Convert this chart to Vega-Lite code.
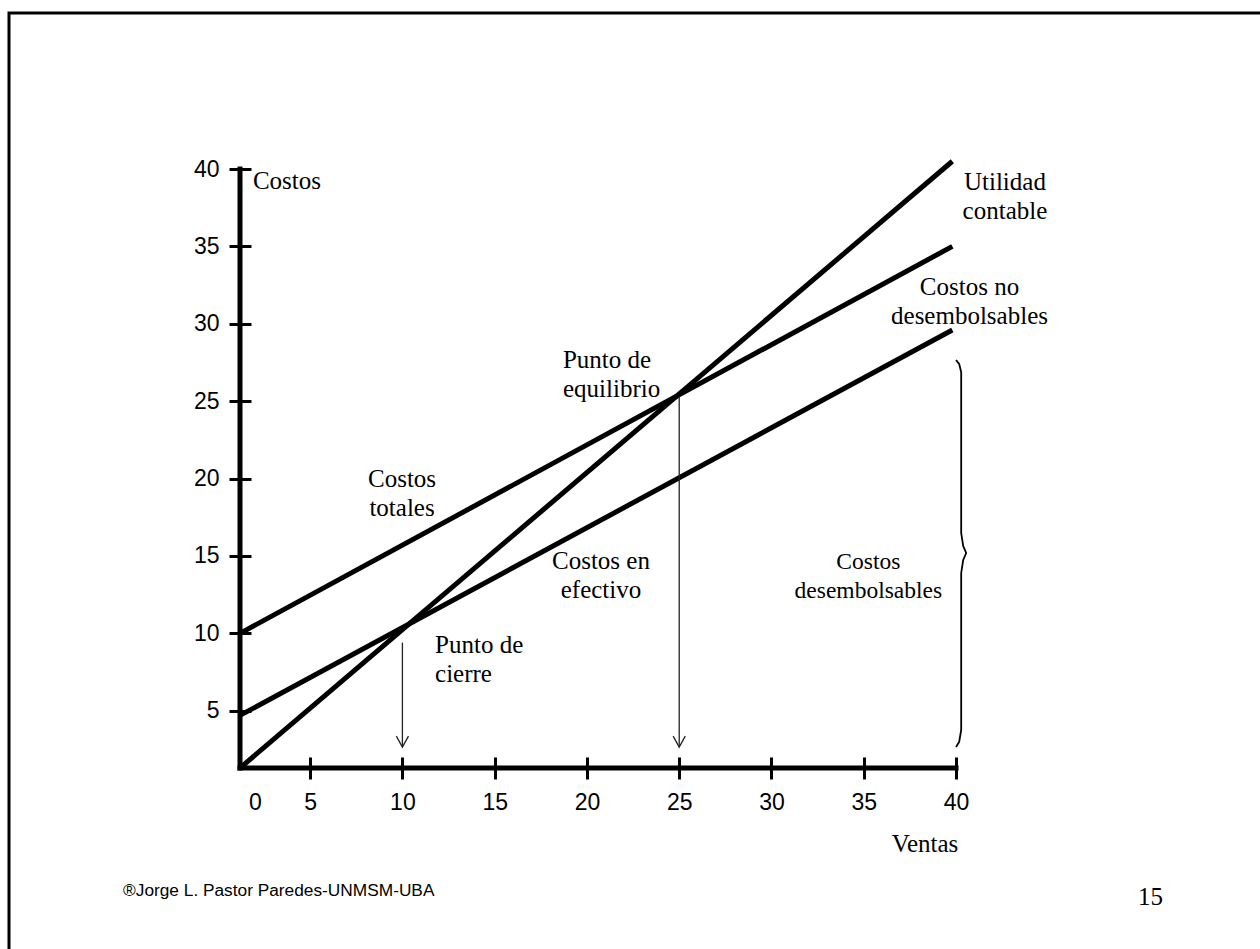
{
  "$schema": "https://vega.github.io/schema/vega-lite/v6.json",
  "width": 1251,
  "height": 936,
  "autosize": "none",
  "padding": {"left": 9, "top": 13, "right": 0, "bottom": 0},
  "background": "white",
  "config": {
    "view": {"stroke": "black", "strokeWidth": 3, "strokeDash": [1251, 2187, 936]},
    "axis": {
      "domain": false,
      "grid": false,
      "tickColor": "black",
      "tickWidth": 3,
      "tickSize": 22,
      "labelFont": "Liberation Sans",
      "labelFontSize": 23,
      "labelColor": "black",
      "labelFlush": false,
      "labelOverlap": false,
      "labelBound": false
    }
  },
  "datasets": {
    "cost_lines": [
      {"series": "Utilidad contable", "x": 1.2, "y": 1.3},
      {"series": "Utilidad contable", "x": 39.8, "y": 40.5},
      {"series": "Costos totales", "x": 1.2, "y": 10.0},
      {"series": "Costos totales", "x": 39.8, "y": 35.0},
      {"series": "Costos en efectivo", "x": 1.2, "y": 4.7},
      {"series": "Costos en efectivo", "x": 39.8, "y": 29.6}
    ],
    "axis_lines": [
      {"x": 1.2, "y": 1.3, "x2": 1.2, "y2": 40},
      {"x": 1.2, "y": 1.3, "x2": 40, "y2": 1.3}
    ],
    "arrows": [
      {"point": "Punto de cierre", "x": 10, "y": 9.4, "y2": 2.65},
      {"point": "Punto de equilibrio", "x": 25, "y": 25.3, "y2": 2.65}
    ],
    "brace": [
      {"i": 0, "x": 40.0, "y": 27.66},
      {"i": 1, "x": 40.17, "y": 27.4},
      {"i": 2, "x": 40.28, "y": 26.88},
      {"i": 3, "x": 40.28, "y": 16.48},
      {"i": 4, "x": 40.39, "y": 15.64},
      {"i": 5, "x": 40.55, "y": 15.19},
      {"i": 6, "x": 40.39, "y": 14.74},
      {"i": 7, "x": 40.28, "y": 13.9},
      {"i": 8, "x": 40.28, "y": 3.76},
      {"i": 9, "x": 40.17, "y": 2.98},
      {"i": 10, "x": 40.0, "y": 2.66}
    ],
    "labels_left": [
      {"x": 1.9, "y": 38.71, "label": "Costos"},
      {"x": 18.7, "y": 27.12, "label": "Punto de\nequilibrio"},
      {"x": 11.77, "y": 8.75, "label": "Punto de\ncierre"}
    ],
    "labels_center": [
      {"x": 42.65, "y": 38.64, "label": "Utilidad\ncontable"},
      {"x": 40.73, "y": 31.86, "label": "Costos no\ndesembolsables"},
      {"x": 9.98, "y": 19.47, "label": "Costos\ntotales"},
      {"x": 20.76, "y": 14.16, "label": "Costos en\nefectivo"},
      {"x": 38.32, "y": -4.11, "label": "Ventas"},
      {"x": 50.54, "y": -7.55, "label": "15"}
    ],
    "labels_small": [
      {"x": 35.25, "y": 14.16, "label": "Costos\ndesembolsables"}
    ],
    "footer": [
      {"x": -5.14, "y": -6.97, "label": "®Jorge L. Pastor Paredes-UNMSM-UBA"}
    ]
  },
  "encoding": {
    "x": {
      "field": "x",
      "type": "quantitative",
      "scale": {"domain": [-11.318, 56.472], "nice": false, "zero": false},
      "axis": {
        "orient": "bottom",
        "offset": -192,
        "title": null,
        "values": [0, 5, 10, 15, 20, 25, 30, 35, 40],
        "labelPadding": 12,
        "labelOffset": {"condition": {"test": "datum.value === 0", "value": 37}, "value": 0},
        "tickOpacity": {"condition": {"test": "datum.value === 0", "value": 0}, "value": 1}
      }
    },
    "y": {
      "field": "y",
      "type": "quantitative",
      "scale": {"domain": [-10.394, 50.079], "nice": false, "zero": false},
      "axis": {
        "orient": "left",
        "offset": -242,
        "title": null,
        "values": [5, 10, 15, 20, 25, 30, 35, 40],
        "labelPadding": 10
      }
    }
  },
  "layer": [
    {
      "data": {"name": "axis_lines"},
      "mark": {"type": "rule", "color": "black", "strokeWidth": 5, "strokeCap": "square"},
      "encoding": {
        "x2": {"field": "x2"},
        "y2": {"field": "y2"}
      }
    },
    {
      "data": {"name": "cost_lines"},
      "mark": {"type": "line", "color": "black", "strokeWidth": 5, "strokeCap": "butt"},
      "encoding": {
        "detail": {"field": "series", "type": "nominal"}
      }
    },
    {
      "data": {"name": "arrows"},
      "mark": {"type": "rule", "color": "#222", "strokeWidth": 1.3},
      "encoding": {
        "y2": {"field": "y2"}
      }
    },
    {
      "data": {"name": "arrows"},
      "mark": {
        "type": "point",
        "shape": "M-0.55,-1L0,0L0.55,-1",
        "size": 484,
        "filled": false,
        "opacity": 1,
        "stroke": "#222",
        "strokeWidth": 1.3
      },
      "encoding": {
        "y": {"field": "y2", "type": "quantitative"}
      }
    },
    {
      "data": {"name": "brace"},
      "mark": {"type": "line", "color": "black", "strokeWidth": 1.8},
      "encoding": {
        "order": {"field": "i", "type": "quantitative"}
      }
    },
    {
      "data": {"name": "labels_left"},
      "mark": {
        "type": "text",
        "font": "Liberation Serif",
        "fontSize": 25,
        "align": "left",
        "baseline": "alphabetic",
        "lineBreak": "\n",
        "lineHeight": 29,
        "color": "black"
      },
      "encoding": {
        "text": {"field": "label", "type": "nominal"}
      }
    },
    {
      "data": {"name": "labels_center"},
      "mark": {
        "type": "text",
        "font": "Liberation Serif",
        "fontSize": 25,
        "align": "center",
        "baseline": "alphabetic",
        "lineBreak": "\n",
        "lineHeight": 29,
        "color": "black"
      },
      "encoding": {
        "text": {"field": "label", "type": "nominal"}
      }
    },
    {
      "data": {"name": "labels_small"},
      "mark": {
        "type": "text",
        "font": "Liberation Serif",
        "fontSize": 23.5,
        "align": "center",
        "baseline": "alphabetic",
        "lineBreak": "\n",
        "lineHeight": 29,
        "color": "black"
      },
      "encoding": {
        "text": {"field": "label", "type": "nominal"}
      }
    },
    {
      "data": {"name": "footer"},
      "mark": {
        "type": "text",
        "font": "Liberation Sans",
        "fontSize": 17.3,
        "align": "left",
        "baseline": "alphabetic",
        "color": "black"
      },
      "encoding": {
        "text": {"field": "label", "type": "nominal"}
      }
    }
  ]
}
